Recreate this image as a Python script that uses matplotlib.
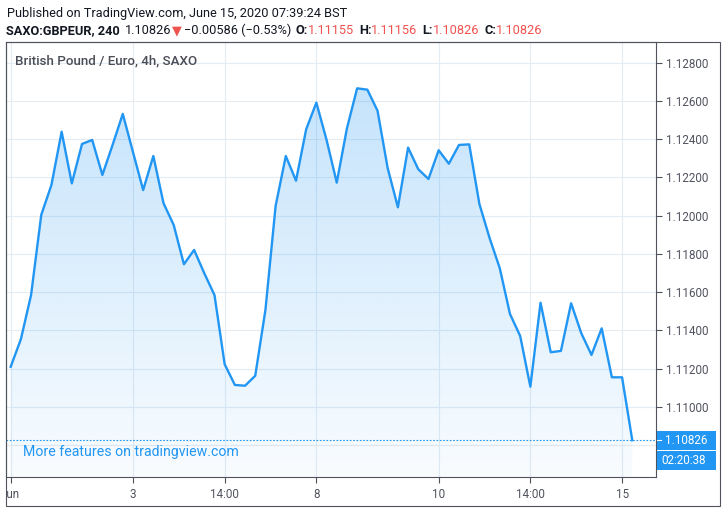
import matplotlib.pyplot as plt
import numpy as np
from matplotlib.patches import Rectangle
from matplotlib.lines import Line2D
from matplotlib.transforms import Bbox, IdentityTransform

# GBP/EUR 4h closes
closes = [1.11210, 1.11354, 1.11585, 1.12004, 1.12161, 1.12439, 1.12169, 1.12375,
          1.12396, 1.12213, 1.12370, 1.12532, 1.12333, 1.12134, 1.12312, 1.12065,
          1.11951, 1.11746, 1.11821, 1.11699, 1.11585, 1.11223, 1.11115, 1.11111,
          1.11163, 1.11507, 1.12051, 1.12312, 1.12183, 1.12452, 1.12591, 1.12396,
          1.12173, 1.12457, 1.12666, 1.12659, 1.12549, 1.12248, 1.12044, 1.12356,
          1.12243, 1.12192, 1.12342, 1.12272, 1.12370, 1.12373, 1.12061, 1.11883,
          1.11725, 1.11486, 1.11371, 1.11106, 1.11545, 1.11286, 1.11293, 1.11542,
          1.11385, 1.11272, 1.11411, 1.11155, 1.11155, 1.10826]
time_pos = [0, 12, 21, 30, 42, 51, 60]
time_labels = ['Jun', '3', '14:00', '8', '10', '14:00', '15']
price_ticks = [1.108, 1.110, 1.112, 1.114, 1.116, 1.118, 1.120, 1.122, 1.124, 1.126, 1.128]
last_price = 1.10826
countdown = '02:20:38'

plt.rcParams['font.family'] = ['Roboto', 'DejaVu Sans']
W, H = 727, 513
blue = '#2196f3'
dark = '#50535e'
red = '#ef5350'

fig = plt.figure(figsize=(W / 100, H / 100), dpi=100)
ax = fig.add_axes([6 / W, 1 - 477 / H, 650 / W, 435 / H])

x = np.arange(len(closes))
ylo, yhi = 1.106337, 1.129082
xlo, xhi = -0.46, 63.33

# gradient fill under the line
fill = ax.fill_between(x, closes, ylo, color='none')
grad = np.zeros((256, 1, 4))
grad[:, 0, :3] = [33 / 255, 150 / 255, 243 / 255]
grad[:, 0, 3] = np.linspace(0.26, 0.03, 256)
img = ax.imshow(grad, extent=[xlo, xhi, ylo, max(closes)], aspect='auto', origin='upper', zorder=1)
img.set_clip_path(fill.get_paths()[0], ax.transData)

ax.plot(x, closes, color=blue, lw=1.7, zorder=3)
ax.axhline(last_price, color=blue, lw=0.8, ls=(0, (1.5, 1.5)), zorder=2)

ax.set_xlim(xlo, xhi)
ax.set_ylim(ylo, yhi)
ax.set_xticks(time_pos)
ax.set_xticklabels(time_labels)
ax.yaxis.tick_right()
ax.set_yticks(price_ticks)
ax.set_yticklabels(['' if p < 1.109 else '%.5f' % p for p in price_ticks])
ax.grid(color='#e3ecf3', lw=0.8)
ax.set_axisbelow(True)
ax.tick_params(axis='both', direction='out', length=4, width=0.8, color=dark,
               labelcolor=dark, labelsize=8.4)
ax.tick_params(axis='x', pad=4)
ax.tick_params(axis='y', pad=3)
for s in ax.spines.values():
    s.set_color(dark)
    s.set_linewidth(0.8)

# clip the first time label at the left frame like the original
for lbl in ax.get_xticklabels():
    lbl.set_clip_box(Bbox([[6, 0], [W, H]]))
    lbl.set_clip_on(True)

# outer frame around price and time scales
fig.add_artist(Rectangle((6 / W, 1 - 506 / H), 714 / W, 464 / H, transform=fig.transFigure,
                         fill=False, ec=dark, lw=0.8))

# last price and countdown tags
y_last = ax.transData.transform((0, last_price))[1]
fig.add_artist(Rectangle((657, y_last - 9.5), 59, 19, transform=IdentityTransform(),
                         fc=blue, ec='none', zorder=5))
fig.add_artist(Rectangle((657, y_last - 29.5), 59, 19, transform=IdentityTransform(),
                         fc=blue, ec='none', zorder=5))
fig.add_artist(Line2D([657, 661], [y_last, y_last], transform=IdentityTransform(),
                      color='white', lw=0.8, zorder=6))
fig.text(665, y_last, '%.5f' % last_price, transform=IdentityTransform(), color='white',
         fontsize=8.4, va='center', zorder=6)
fig.text(661, y_last - 20, countdown, transform=IdentityTransform(), color='white',
         fontsize=8.4, va='center', zorder=6)

fig.text(15 / W, 1 - 61 / H, 'British Pound / Euro, 4h, SAXO', color='#4a4d57',
         fontsize=9.6, fontweight='medium', va='center')
fig.text(23 / W, 1 - 452 / H, 'More features on tradingview.com', color=blue,
         fontsize=10.2, va='center')

# header lines
renderer = fig.canvas.get_renderer()


def put(xp, yp, s, **kw):
    t = fig.text(xp / W, 1 - yp / H, s, va='baseline', fontsize=9.2, **kw)
    return xp + t.get_window_extent(renderer).width


put(7, 17.5, 'Published on TradingView.com, June 15, 2020 07:39:24 BST', color='#131722')
xp = put(6, 34.5, 'SAXO:GBPEUR, 240', color='#131722', fontweight='bold') + 5
xp = put(xp, 34.5, '1.10826', color='#131722') + 1
xp = put(xp, 34.5, '\u25bc', color=red, family=['DejaVu Sans']) + 2
xp = put(xp, 34.5, '\u22120.00586 (\u22120.53%)', color='#131722') + 4
for k, v in [('O:', '1.11155'), ('H:', '1.11156'), ('L:', '1.10826'), ('C:', '1.10826')]:
    xp = put(xp, 34.5, k, color='#131722', fontweight='bold')
    xp = put(xp, 34.5, v, color=red) + 5

fig.savefig('out.png', dpi=100)
